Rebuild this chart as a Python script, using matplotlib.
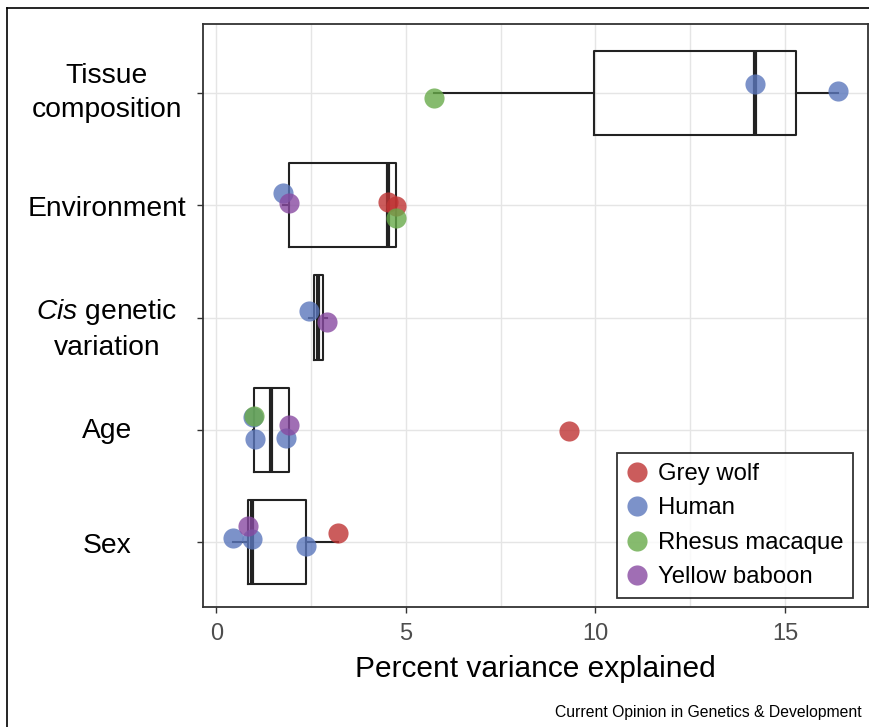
import numpy as np
import matplotlib
matplotlib.use('Agg')
import matplotlib.pyplot as plt
from matplotlib.lines import Line2D
from matplotlib.transforms import blended_transform_factory, ScaledTranslation

plt.rcParams['font.family'] = ['Liberation Sans', 'DejaVu Sans']
plt.rcParams['mathtext.fontset'] = 'custom'
plt.rcParams['mathtext.it'] = 'Liberation Sans:italic'
plt.rcParams['mathtext.rm'] = 'Liberation Sans'

# categories bottom -> top
categories = ['Sex', 'Age', 'Cis', 'Environment', 'Tissue']
cat_labels = ['Sex', 'Age', '$\\mathit{Cis}$ genetic\nvariation', 'Environment', 'Tissue\ncomposition']
species = ['Grey wolf', 'Human', 'Rhesus macaque', 'Yellow baboon']
colors = ['#BF3333', '#5B77BC', '#68AA4A', '#884AA1']

# one entry per point: category, species, percent variance, vertical jitter
pt_cat = ['Tissue'] * 3 + ['Environment'] * 5 + ['Cis'] * 2 + ['Age'] * 6 + ['Sex'] * 5
pt_species = ['Rhesus macaque', 'Human', 'Human',
              'Human', 'Yellow baboon', 'Grey wolf', 'Grey wolf', 'Rhesus macaque',
              'Human', 'Yellow baboon',
              'Human', 'Rhesus macaque', 'Human', 'Human', 'Yellow baboon', 'Grey wolf',
              'Human', 'Human', 'Yellow baboon', 'Human', 'Grey wolf']
pt_value = [5.73, 14.2, 16.4,
            1.77, 1.93, 4.53, 4.74, 4.74,
            2.45, 2.93,
            0.96, 1.0, 1.03, 1.84, 1.93, 9.31,
            0.45, 0.95, 0.84, 2.37, 3.22]
pt_jitter = [-0.044, 0.08, 0.018,
             0.107, 0.018, 0.027, -0.009, -0.116,
             0.062, -0.036,
             0.116, 0.124, -0.08, -0.071, 0.044, -0.009,
             0.036, 0.027, 0.142, -0.036, 0.08]

pt_cat = np.array(pt_cat)
pt_species = np.array(pt_species)
pt_value = np.array(pt_value)
pt_jitter = np.array(pt_jitter)
ypos = {c: i + 1 for i, c in enumerate(categories)}

fig = plt.figure(figsize=(8.69, 7.27), dpi=100)
ax = fig.add_axes([203 / 869, 1 - 607 / 727, (868.5 - 203) / 869, (607 - 24) / 727])

# boxes
box_data = [pt_value[pt_cat == c] for c in categories]
ax.boxplot(box_data, positions=[ypos[c] for c in categories], orientation='horizontal',
           widths=0.75, showfliers=False, showcaps=False, whis=1.5, zorder=2,
           boxprops=dict(color='#222222', lw=1.5),
           whiskerprops=dict(color='#222222', lw=1.5),
           medianprops=dict(color='#222222', lw=3))

# points
for sp, col in zip(species, colors):
    m = pt_species == sp
    ys = np.array([ypos[c] for c in pt_cat[m]]) + pt_jitter[m]
    ax.scatter(pt_value[m], ys, s=210, color=col, alpha=0.8, lw=0, zorder=3)

ax.set_xticks([0, 5, 10, 15])
ax.set_xticks([2.5, 7.5, 12.5], minor=True)
ax.set_yticks([1, 2, 3, 4, 5])
ax.set_yticklabels([])
ax.set_xlim(-0.35, 17.2)
ax.set_ylim(0.418, 5.618)
ax.grid(True, which='both', color='#E5E5E5', lw=1.0)
ax.set_axisbelow(True)
ax.tick_params(axis='x', which='minor', length=0)
ax.tick_params(axis='x', which='major', length=4.5, width=1.0, color='#333333',
               labelsize=17, labelcolor='#4D4D4D', pad=7)
ax.tick_params(axis='y', length=4.5, width=1.0, color='#333333')
for s in ax.spines.values():
    s.set_color('#333333')
    s.set_linewidth(1.3)

# category labels, centred in the left margin (shift in px, up is positive)
label_shift = {'Sex': -4, 'Age': -1, 'Cis': -11, 'Environment': -4, 'Tissue': 0}
for c, lab in zip(categories, cat_labels):
    tr = blended_transform_factory(fig.transFigure, ax.transData) + \
        ScaledTranslation(0, label_shift[c] / 100, fig.dpi_scale_trans)
    ax.text(107 / 869, ypos[c], lab, transform=tr, ha='center', va='center',
            multialignment='center', fontsize=20.3, linespacing=1.4)

ax.set_xlabel('Percent variance explained', fontsize=21.5, labelpad=7)

handles = [Line2D([], [], marker='o', ls='', markersize=14.5, color=c, alpha=0.8, mew=0)
           for c in colors]
leg = ax.legend(handles, species, loc='upper left',
                bbox_to_anchor=(617 / 869, 1 - 453 / 727), bbox_transform=fig.transFigure,
                fontsize=17.2, frameon=True, fancybox=False, edgecolor='black',
                handletextpad=0.48, labelspacing=0.52, borderpad=0.42, borderaxespad=0,
                handlelength=0.8)
leg.get_frame().set_linewidth(1.3)

fig.text(862 / 869, 1 - 712 / 727, 'Current Opinion in Genetics & Development',
         ha='right', va='center', fontsize=11.3)

# outer frame
fig.add_artist(Line2D([7 / 869, 7 / 869], [0, 1 - 8 / 727], transform=fig.transFigure,
                      color='black', lw=1.2))
fig.add_artist(Line2D([7 / 869, 1], [1 - 8 / 727, 1 - 8 / 727], transform=fig.transFigure,
                      color='black', lw=1.2))

fig.savefig('out.png', dpi=100)
